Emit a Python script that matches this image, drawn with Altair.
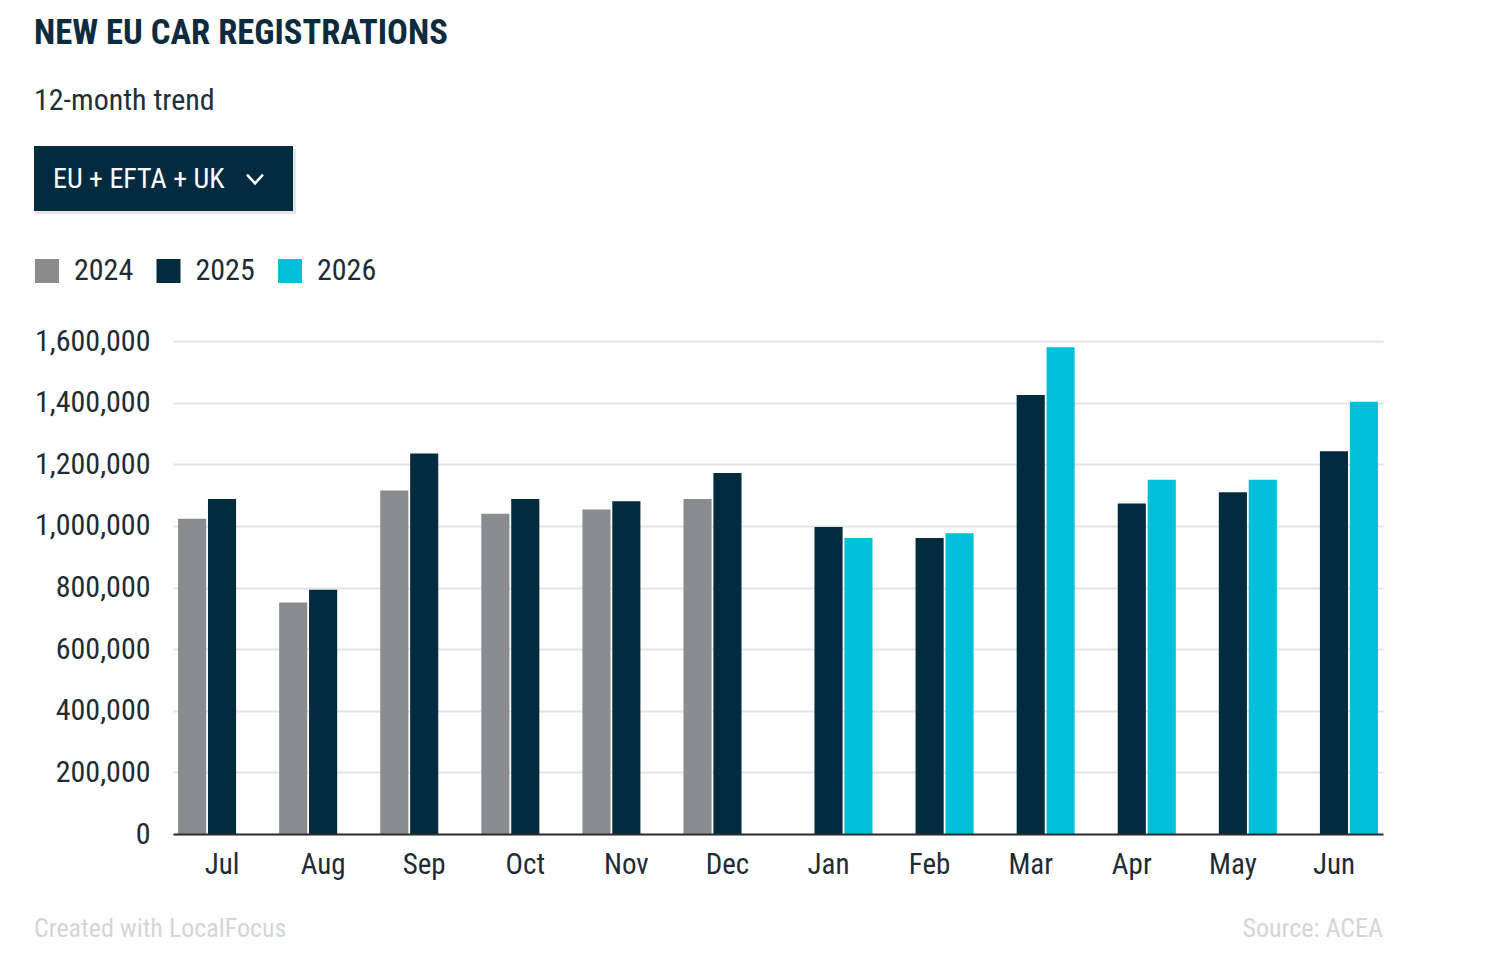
import altair as alt
import pandas as pd

FONT = "Roboto Condensed, Liberation Sans Narrow, DejaVu Sans Condensed, Roboto, sans-serif"

months = ["Jul", "Aug", "Sep", "Oct", "Nov", "Dec", "Jan", "Feb", "Mar", "Apr", "May", "Jun"]
years = ["2024", "2025", "2026"]
reg_2024 = [1023000, 751000, 1115000, 1039000, 1053000, 1087000, None, None, None, None, None, None]
reg_2025 = [1087000, 793000, 1235000, 1087000, 1080000, 1172000, 996000, 961000, 1425000, 1073000, 1109000, 1242000]
reg_2026 = [None, None, None, None, None, None, 961000, 976000, 1580000, 1150000, 1150000, 1403000]
colors = ["#8a8c8d", "#032b40", "#00bfd9"]
y_ticks = [0, 200000, 400000, 600000, 800000, 1000000, 1200000, 1400000, 1600000]

rows = []
for yr, vals in zip(years, [reg_2024, reg_2025, reg_2026]):
    for m, v in zip(months, vals):
        if v is not None:
            rows.append({"month": m, "year": yr, "value": v})
df = pd.DataFrame(rows)

bars = alt.Chart(df).mark_bar().encode(
    x=alt.X("month:N", sort=months, title=None,
            scale=alt.Scale(paddingInner=0.13, paddingOuter=0.05),
            axis=alt.Axis(labelAngle=0, ticks=False, labelPadding=16, labelFontSize=29,
                          labelFont=FONT, labelColor="#1f2b35", domainColor="#2e2e2e",
                          domainWidth=2, grid=False, zindex=1)),
    xOffset=alt.XOffset("year:N", sort=years, scale=alt.Scale(domain=years, paddingInner=0.06)),
    y=alt.Y("value:Q", title=None, scale=alt.Scale(domain=[0, 1600000], nice=False),
            axis=alt.Axis(values=y_ticks, format=",d", ticks=False, domain=False,
                          labelPadding=23, labelFontSize=30, labelFont=FONT,
                          labelColor="#1f2b35", gridColor="#e3e3e3", gridWidth=2)),
    color=alt.Color("year:N", scale=alt.Scale(domain=years, range=colors),
                    legend=alt.Legend(orient="none", legendX=-141, legendY=-85,
                                      direction="horizontal", title=None,
                                      symbolType="square", symbolSize=576,
                                      symbolStrokeWidth=0, symbolOpacity=1,
                                      labelFontSize=30, labelFont=FONT,
                                      labelColor="#1f2b35", labelOffset=12,
                                      columnPadding=19.5, padding=0)),
)

one = pd.DataFrame({"k": [0]})

title = alt.Chart(one).mark_text(text="NEW EU CAR REGISTRATIONS", font=FONT, fontSize=34.6,
                                 fontWeight="bold", color="#0d2b3e", align="left",
                                 baseline="alphabetic").encode(x=alt.value(-139), y=alt.value(-297))
subtitle = alt.Chart(one).mark_text(text="12-month trend", font=FONT, fontSize=30,
                                    color="#1f2f3a", align="left",
                                    baseline="alphabetic").encode(x=alt.value(-139), y=alt.value(-231))
shadow = alt.Chart(one).mark_rect(color="#000000", opacity=0.10).encode(
    x=alt.value(-138), x2=alt.value(123), y=alt.value(-192), y2=alt.value(-127))
button = alt.Chart(one).mark_rect(color="#032b40").encode(
    x=alt.value(-139), x2=alt.value(120), y=alt.value(-195), y2=alt.value(-130))
btn_text = alt.Chart(one).mark_text(text="EU + EFTA + UK", font=FONT, fontSize=28,
                                    color="#ffffff", align="left",
                                    baseline="alphabetic").encode(x=alt.value(-120), y=alt.value(-153))
chevron = alt.Chart(one).mark_point(shape="M-1,-0.55L0,0.55L1,-0.55", filled=False,
                                    color="#ffffff", strokeWidth=2.5, size=256,
                                    opacity=1).encode(x=alt.value(82), y=alt.value(-162))
footer_l = alt.Chart(one).mark_text(text="Created with LocalFocus", font=FONT, fontSize=26,
                                    color="#d3d6d8", align="left",
                                    baseline="alphabetic").encode(x=alt.value(-139), y=alt.value(596))
footer_r = alt.Chart(one).mark_text(text="Source: ACEA", font=FONT, fontSize=26,
                                    color="#d3d6d8", align="right",
                                    baseline="alphabetic").encode(x=alt.value(1210), y=alt.value(596))

chart = alt.layer(bars, title, subtitle, shadow, button, btn_text, chevron, footer_l, footer_r).properties(
    width=1210, height=493,
    padding={"left": 173, "top": 341, "right": 117, "bottom": 142},
    autosize=alt.AutoSizeParams(type="none"),
    background="#ffffff",
).configure_view(stroke=None)

chart.save("out.html", embed_options={"renderer": "svg", "actions": False})
